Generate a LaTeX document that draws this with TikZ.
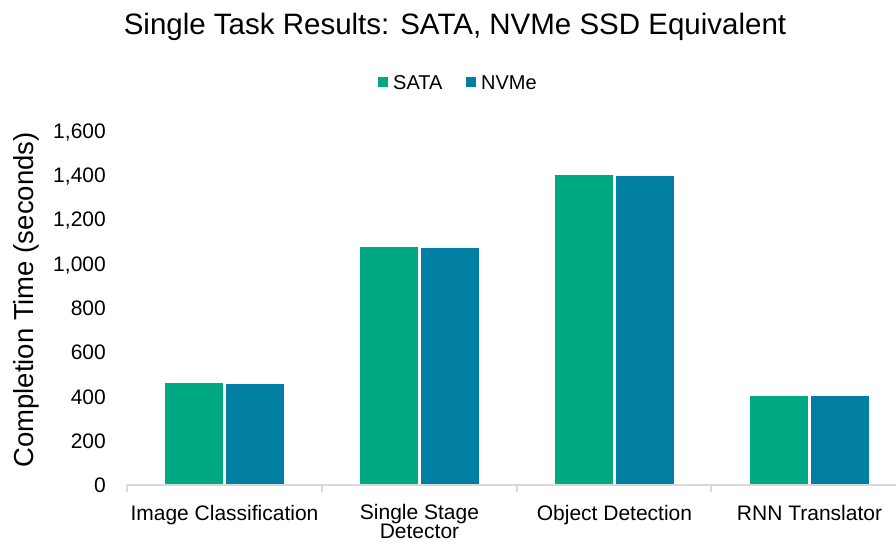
\documentclass[tikz,border=0pt]{standalone}
\usepackage{fontspec}
\setmainfont{Liberation Sans}
\definecolor{sata}{RGB}{1,169,130}
\definecolor{nvme}{RGB}{0,127,163}
\definecolor{axisgray}{RGB}{217,217,217}
\begin{document}
\begin{tikzpicture}[x=1pt,y=-1pt,
  lbl/.style={inner sep=0pt,anchor=base,font=\fontsize{21}{21}\selectfont},
  ytick/.style={inner sep=0pt,anchor=base east,font=\fontsize{21}{21}\selectfont},
  sbar/.style={fill=sata,draw=white,line width=1.2pt},
  nbar/.style={fill=nvme,draw=white,line width=1.2pt}]
\useasboundingbox (0,0) rectangle (896,543);
% title
\node[inner sep=0pt,anchor=base,font=\fontsize{29.5}{29.5}\selectfont] (title) at (455,35) {Single Task Results: SATA, NVMe SSD Equivalent};
% legend
\fill[sata] (378,77) rectangle (388,87);
\node[inner sep=0pt,anchor=base west,font=\fontsize{20}{20}\selectfont] (legS) at (393,89) {SATA};
\fill[nvme] (466,77) rectangle (476,87);
\node[inner sep=0pt,anchor=base west,font=\fontsize{20}{20}\selectfont] (legN) at (481,89) {NVMe};
% y axis title
\node[inner sep=0pt,anchor=base,rotate=90,font=\fontsize{27.5}{27.5}\selectfont] (ytitle) at (33,300) {Completion Time (seconds)};
% y tick labels
\foreach \v/\t in {0/0,200/200,400/400,600/600,800/800,1000/{1,000},1200/{1,200},1400/{1,400},1600/{1,600}}{
  \node[ytick] (yt\v) at (106,{485-\v*0.22125+7.5}) {\t};
}
% bars
\foreach \c/\s/\n in {224.5/462/461, 419.5/1080/1076, 614.5/1406/1401, 809.5/405/407}{
  \draw[sbar] ({\c-60.5},485) rectangle ({\c-1},{485-\s*0.22125});
  \draw[nbar] ({\c+1},485) rectangle ({\c+60.5},{485-\n*0.22125});
}
% x axis
\draw[axisgray,line width=1.2pt] (127,485) -- (896,485);
\foreach \x in {127,322,517,711}{
  \draw[axisgray,line width=1.2pt] (\x,485) -- (\x,492);
}
% category labels
\node[lbl] (c1) at (224.5,520) {Image Classification};
\node[lbl] (c2) at (419.5,519) {Single Stage};
\node[lbl] (c2b) at (419.5,538.5) {Detector};
\node[lbl] (c3) at (614.5,520) {Object Detection};
\node[lbl] (c4) at (809.5,520) {RNN Translator};
\end{tikzpicture}
\end{document}
